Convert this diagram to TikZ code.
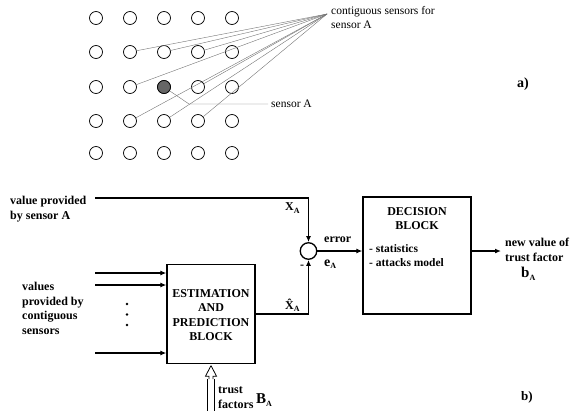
\documentclass[tikz,border=0pt]{standalone}
\usepackage{fontspec}
\setmainfont{Liberation Serif}
\usetikzlibrary{arrows.meta}
\newcommand{\subl}[2]{#1\raisebox{-0.4ex}{\fontsize{8}{8}\selectfont #2}}
\begin{document}
\begin{tikzpicture}[x=1pt,y=-1pt,
  sensor/.style={circle,draw,line width=0.7pt,minimum size=13pt,inner sep=0pt},
  fanline/.style={draw=black!55,line width=0.4pt},
  wire/.style={line width=1.3pt},
  arr/.style={wire,-{Latex[length=6pt,width=5pt]}},
  blk/.style={draw,line width=1.3pt,inner sep=0pt},
  small/.style={font=\fontsize{11.5}{13.5}\selectfont,align=left,inner sep=0pt},
  bold/.style={font=\fontsize{12}{14.5}\selectfont\bfseries,align=left,inner sep=0pt}]
\useasboundingbox (0,0) rectangle (576,410);
% sensor grid
\foreach \r/\yy in {1/18,2/52,3/87,4/121,5/153}{
  \foreach \c/\xx in {1/96,2/130,3/164,4/198,5/232}{
    \node[sensor] (s-\r-\c) at (\xx,\yy) {};
  }
}
\node[sensor,fill=black!60] (sA) at (164,87) {};
\coordinate (fan) at (327,14);
\foreach \n in {s-2-2,s-2-3,s-2-4,s-3-2,s-3-4,s-4-2,s-4-3,s-4-4}{
  \draw[fanline] (\n) -- (fan);
}
\node[small,anchor=west] (contig) at (331,17.5) {contiguous sensors for\\sensor A};
\coordinate (sa1) at (189,104);
\coordinate (sa2) at (268,104);
\draw[fanline] (sA) -- (sa1) -- (sa2);
\node[small,anchor=west] (sAlab) at (271,104) {sensor A};
\node[font=\fontsize{14}{14}\selectfont\bfseries,inner sep=0pt] (la) at (523,84) {a)};
% block diagram
\node[blk,minimum width=88pt,minimum height=99pt] (est) at (211,314) {};
\node[bold,align=center,anchor=center] (esttxt) at (211,315) {ESTIMATION\\AND\\PREDICTION\\BLOCK};
\node[blk,minimum width=108pt,minimum height=117pt] (dec) at (417,255.5) {};
\node[bold,align=center,anchor=north] (dectitle) at (417,207) {DECISION\\BLOCK};
\node[bold,anchor=north west,font=\fontsize{11.5}{14}\selectfont\bfseries] (declist) at (369,244) {- statistics\\- attacks model};
\node[circle,draw,line width=1.3pt,minimum size=16.5pt,inner sep=0pt] (sum) at (308.5,251) {};
\coordinate (vstart) at (95,198);
\coordinate (vcorner) at (308.5,198);
\draw[wire] (vstart) -- (vcorner);
\draw[arr] (vcorner) -- (sum);
\draw[wire] (est.east) -- (est.east -| sum);
\draw[arr] (est.east -| sum) -- (sum);
\draw[arr] (sum) -- (sum -| dec.west);
\coordinate (outend) at (501,251);
\draw[arr] (dec.east |- sum) -- (outend);
\foreach \i/\yy in {1/273,2/285,3/353}{
  \coordinate (in\i) at (95,\yy);
  \draw[arr] (in\i) -- (in\i -| est.west);
}
\foreach \i/\yy in {1/304,2/314.5,3/325}{
  \fill (127,\yy) circle (1.4pt) coordinate (dot\i);
}
% hollow arrow
\draw[line width=0.8pt] (est.south) ++(-3.5,15) coordinate (ha1)
  -- ++(0,40) (est.south) ++(3.5,15) -- ++(0,40);
\draw[line width=0.8pt,fill=white] (est.south) ++(0,1.5) -- ++(5.5,10.5) -- ++(-3.5,0) -- ++(0,3)
  (est.south) ++(0,1.5) -- ++(-5.5,10.5) -- ++(3.5,0) -- ++(0,3);
% labels
\node[bold,anchor=north west] (vpa) at (10,196) {value provided\\by sensor A};
\node[bold,anchor=north west] (vpc) at (22,282) {values\\provided by\\contiguous\\sensors};
\node[bold,anchor=west] (xa) at (285,208) {\subl{X}{A}};
\node[bold,anchor=west] (xh) at (285,305) {\subl{\^{X}}{A}};
\node[bold] (minus) at (302,267) {-};
\node[bold,anchor=west] (err) at (324,240) {error};
\node[bold,anchor=west,font=\fontsize{14}{14}\selectfont\bfseries] (ea) at (324,264) {\subl{e}{A}};
\node[bold,anchor=north west] (nv) at (505,238) {new value of\\trust factor};
\node[bold,anchor=west,font=\fontsize{15}{15}\selectfont\bfseries] (ba) at (521,274) {\subl{b}{A}};
\node[bold,anchor=north west] (tf) at (218,387) {trust\\factors};
\node[bold,anchor=west,font=\fontsize{15}{15}\selectfont\bfseries] (BA) at (256,400) {\subl{B}{A}};
\node[font=\fontsize{13}{13}\selectfont\bfseries,inner sep=0pt] (lb) at (527,397) {b)};
\end{tikzpicture}
\end{document}
